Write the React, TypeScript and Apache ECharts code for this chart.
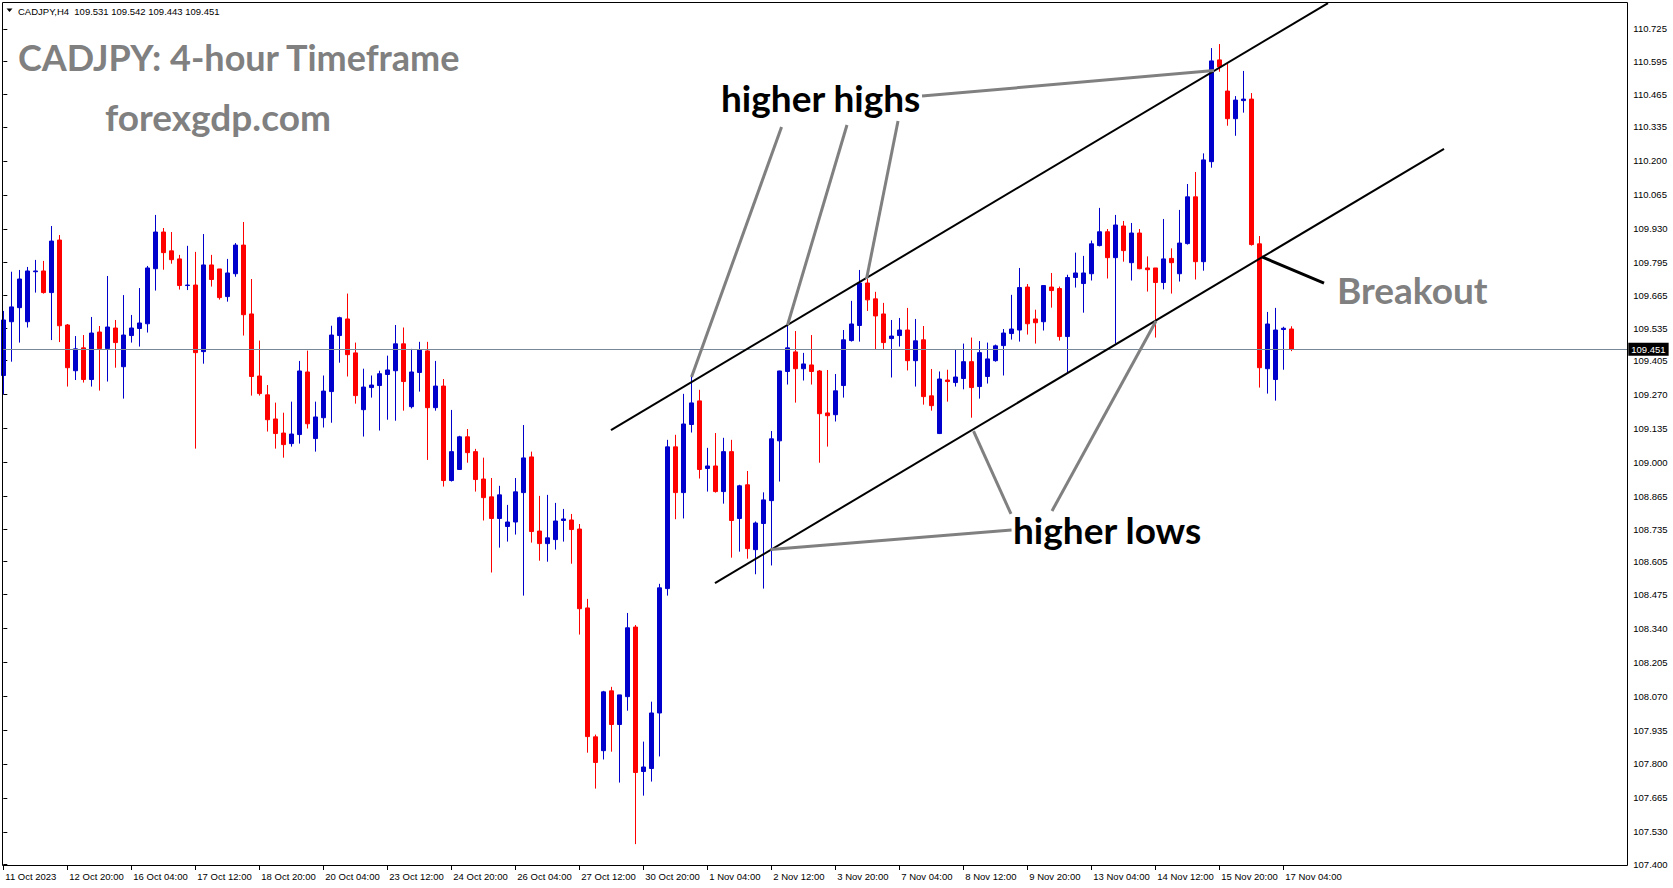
import React, { useEffect, useRef } from 'react';
import * as echarts from 'echarts';

// ---- candle data (H4 bars, index 0 = 11 Oct 2023 12:00) ----
const opens = [
  109.346, 109.560, 109.616, 109.560, 109.759, 109.762, 109.676, 109.885, 109.547, 109.365,
  109.456, 109.330, 109.519, 109.453, 109.535, 109.381, 109.505, 109.533, 109.552, 109.771,
  109.917, 109.842, 109.810, 109.704, 109.706, 109.441, 109.786, 109.770, 109.660, 109.751,
  109.865, 109.591, 109.344, 109.269, 109.173, 109.117, 109.075, 109.111, 109.360, 109.095,
  109.178, 109.282, 109.505, 109.571, 109.436, 109.210, 109.298, 109.306, 109.350, 109.365,
  109.472, 109.222, 109.358, 109.444, 109.218, 109.304, 108.928, 108.972, 109.102, 109.043,
  108.934, 108.863, 108.777, 108.745, 108.763, 108.880, 109.022, 108.727, 108.677, 108.693,
  108.769, 108.771, 108.735, 108.421, 107.908, 107.853, 108.091, 107.957, 108.068, 108.345,
  107.770, 107.782, 108.003, 108.498, 109.062, 108.880, 109.151, 109.245, 108.976, 108.986,
  108.884, 109.043, 108.777, 108.911, 108.653, 108.757, 108.848, 109.086, 109.362, 109.440,
  109.373, 109.388, 109.364, 109.197, 109.190, 109.306, 109.485, 109.545, 109.714, 109.651,
  109.591, 109.493, 109.505, 109.527, 109.405, 109.488, 109.265, 109.115, 109.328, 109.318,
  109.334, 109.401, 109.302, 109.342, 109.405, 109.465, 109.513, 109.527, 109.698, 109.571,
  109.560, 109.698, 109.692, 109.501, 109.736, 109.712, 109.751, 109.863, 109.918, 109.815,
  109.941, 109.795, 109.913, 109.774, 109.774, 109.716, 109.812, 109.751, 109.871, 110.057,
  109.799, 110.197, 110.602, 110.478, 110.368, 110.440, 110.446, 109.870, 109.373, 109.330,
  109.529, 109.531,
];
const highs = [
  109.603, 109.759, 109.766, 109.778, 109.806, 109.802, 109.941, 109.905, 109.551, 109.503,
  109.507, 109.579, 109.543, 109.742, 109.567, 109.666, 109.587, 109.694, 109.782, 109.985,
  109.933, 109.917, 109.826, 109.862, 109.838, 109.909, 109.826, 109.770, 109.810, 109.873,
  109.957, 109.730, 109.485, 109.308, 109.238, 109.198, 109.242, 109.404, 109.445, 109.242,
  109.346, 109.544, 109.580, 109.672, 109.477, 109.373, 109.346, 109.365, 109.425, 109.547,
  109.537, 109.452, 109.480, 109.480, 109.404, 109.332, 109.209, 109.106, 109.133, 109.054,
  109.019, 108.938, 108.907, 108.831, 108.938, 109.149, 109.043, 108.867, 108.871, 108.839,
  108.815, 108.795, 108.755, 108.457, 107.917, 108.091, 108.107, 108.075, 108.401, 108.353,
  107.889, 108.048, 108.517, 109.090, 109.110, 109.273, 109.344, 109.289, 109.058, 109.117,
  109.098, 109.090, 108.911, 108.966, 108.765, 108.881, 109.125, 109.365, 109.543, 109.523,
  109.436, 109.507, 109.368, 109.368, 109.352, 109.527, 109.643, 109.766, 109.730, 109.679,
  109.635, 109.567, 109.575, 109.615, 109.571, 109.543, 109.372, 109.362, 109.369, 109.449,
  109.473, 109.497, 109.483, 109.477, 109.469, 109.531, 109.667, 109.774, 109.710, 109.608,
  109.704, 109.754, 109.700, 109.747, 109.835, 109.822, 109.883, 110.013, 109.929, 109.985,
  109.961, 109.953, 109.929, 109.820, 109.774, 109.969, 109.852, 110.005, 110.108, 110.156,
  110.230, 110.649, 110.665, 110.586, 110.458, 110.558, 110.470, 109.901, 109.599, 109.615,
  109.540, 109.542,
];
const lows = [
  109.271, 109.401, 109.477, 109.537, 109.676, 109.672, 109.487, 109.479, 109.302, 109.328,
  109.318, 109.302, 109.286, 109.322, 109.377, 109.254, 109.477, 109.461, 109.517, 109.684,
  109.767, 109.791, 109.688, 109.686, 109.055, 109.393, 109.700, 109.648, 109.640, 109.739,
  109.505, 109.266, 109.266, 109.123, 109.055, 109.019, 109.063, 109.075, 109.135, 109.043,
  109.139, 109.158, 109.397, 109.342, 109.234, 109.103, 109.258, 109.127, 109.170, 109.166,
  109.206, 109.215, 109.282, 109.010, 109.206, 108.904, 108.924, 108.970, 108.999, 108.884,
  108.769, 108.562, 108.661, 108.685, 108.713, 108.470, 108.681, 108.609, 108.605, 108.653,
  108.685, 108.597, 108.315, 107.845, 107.702, 107.818, 107.849, 107.726, 108.012, 107.481,
  107.674, 107.730, 107.830, 108.470, 108.774, 108.777, 109.119, 108.936, 108.884, 108.880,
  108.836, 108.621, 108.645, 108.617, 108.555, 108.498, 108.590, 108.924, 109.310, 109.238,
  109.326, 109.310, 108.999, 109.063, 109.163, 109.258, 109.481, 109.481, 109.603, 109.449,
  109.449, 109.338, 109.461, 109.366, 109.302, 109.230, 109.206, 109.113, 109.242, 109.302,
  109.291, 109.178, 109.254, 109.314, 109.401, 109.346, 109.489, 109.481, 109.509, 109.473,
  109.525, 109.616, 109.485, 109.358, 109.696, 109.596, 109.724, 109.860, 109.732, 109.473,
  109.799, 109.724, 109.769, 109.680, 109.497, 109.689, 109.672, 109.720, 109.867, 109.728,
  109.763, 110.173, 110.555, 110.340, 110.300, 110.392, 109.863, 109.298, 109.274, 109.246,
  109.369, 109.443,
];
const closes = [
  109.567, 109.619, 109.730, 109.762, 109.762, 109.676, 109.881, 109.544, 109.377, 109.452,
  109.330, 109.515, 109.453, 109.539, 109.477, 109.507, 109.535, 109.555, 109.774, 109.917,
  109.835, 109.807, 109.704, 109.706, 109.437, 109.786, 109.728, 109.656, 109.754, 109.865,
  109.588, 109.342, 109.274, 109.170, 109.115, 109.071, 109.113, 109.364, 109.154, 109.181,
  109.284, 109.507, 109.576, 109.429, 109.266, 109.300, 109.308, 109.353, 109.368, 109.472,
  109.322, 109.360, 109.448, 109.218, 109.304, 108.928, 109.043, 109.102, 109.039, 108.932,
  108.860, 108.777, 108.871, 108.763, 108.883, 109.018, 108.725, 108.677, 108.700, 108.767,
  108.775, 108.733, 108.418, 107.909, 107.806, 108.087, 107.957, 108.075, 108.342, 107.766,
  107.788, 108.003, 108.501, 109.062, 108.880, 109.153, 109.237, 108.972, 108.986, 108.884,
  109.043, 108.769, 108.907, 108.657, 108.759, 108.851, 109.094, 109.364, 109.456, 109.373,
  109.392, 109.362, 109.194, 109.186, 109.285, 109.488, 109.551, 109.714, 109.647, 109.583,
  109.477, 109.503, 109.527, 109.405, 109.484, 109.262, 109.226, 109.332, 109.322, 109.340,
  109.401, 109.298, 109.437, 109.412, 109.464, 109.515, 109.531, 109.696, 109.552, 109.556,
  109.704, 109.684, 109.501, 109.736, 109.754, 109.754, 109.870, 109.918, 109.815, 109.945,
  109.843, 109.913, 109.771, 109.767, 109.716, 109.810, 109.795, 109.873, 110.057, 109.799,
  110.204, 110.598, 110.574, 110.368, 110.442, 110.446, 109.867, 109.377, 109.551, 109.527,
  109.534, 109.451,
];

// time labels, one every 8 bars starting at bar 0
const xTickLabels = [
  '11 Oct 2023', '12 Oct 20:00', '16 Oct 04:00', '17 Oct 12:00', '18 Oct 20:00',
  '20 Oct 04:00', '23 Oct 12:00', '24 Oct 20:00', '26 Oct 04:00', '27 Oct 12:00',
  '30 Oct 20:00', '1 Nov 04:00', '2 Nov 12:00', '3 Nov 20:00', '7 Nov 04:00',
  '8 Nov 12:00', '9 Nov 20:00', '13 Nov 04:00', '14 Nov 12:00', '15 Nov 20:00',
  '17 Nov 04:00',
];
const LABEL_STEP = 8;

const priceTicks = [
  110.725, 110.595, 110.465, 110.335, 110.2, 110.065, 109.93, 109.795, 109.665, 109.535,
  109.405, 109.27, 109.135, 109.0, 108.865, 108.735, 108.605, 108.475, 108.34, 108.205,
  108.07, 107.935, 107.8, 107.665, 107.53, 107.4,
];
const lastPrice = 109.451;
const headerText = 'CADJPY,H4  109.531 109.542 109.443 109.451';

// annotation segments in (bar index, price)
const channelLines = [
  [[75.96, 109.129], [165.59, 110.828]],
  [[88.96, 108.52], [180.09, 110.248]],
];
const pointerLines = [
  [[97.28, 110.335], [86.03, 109.34]],
  [[105.46, 110.343], [98.03, 109.547]],
  [[111.84, 110.359], [107.9, 109.73]],
  [[114.84, 110.458], [151.34, 110.56]],
  [[126.03, 108.731], [95.89, 108.654]],
  [[125.96, 108.795], [121.28, 109.125]],
  [[131.09, 108.807], [144.09, 109.563]],
];
const breakoutLines = [[[157.34, 109.818], [165.09, 109.714]]];

const TOTAL_SLOTS = 204;
const AXIS_FONT = 'Liberation Sans';

export default function App() {
  const ref = useRef<HTMLDivElement>(null);

  useEffect(() => {
    if (!ref.current) return;
    const chart = echarts.init(ref.current, null, { renderer: 'svg' });
    const categories = Array.from({ length: TOTAL_SLOTS }, (_, i) => String(i));
    const candleData = opens.map((o, i) => [o, closes[i], lows[i], highs[i]]);
    const showAt = (idx: number) => idx % LABEL_STEP === 0 && idx / LABEL_STEP < xTickLabels.length;

    const segSeries = (segs: number[][][], color: string, width: number) =>
      segs.map((s) => ({
        type: 'line',
        xAxisIndex: 1,
        yAxisIndex: 0,
        data: s,
        symbol: 'none',
        silent: true,
        z: 5,
        lineStyle: { color, width },
      }));

    const txt = (text: string, x: number, y: number, fill: string, size: number) => ({
      type: 'text',
      x,
      y,
      z: 50,
      style: {
        text,
        fill,
        fontSize: size,
        fontWeight: 'bold',
        fontFamily: 'Lato',
        verticalAlign: 'middle',
        align: 'left',
      },
    });

    chart.setOption({
      animation: false,
      backgroundColor: '#ffffff',
      grid: { left: 3.3, right: 45.7, top: 2, bottom: 22, containLabel: false },
      xAxis: [
        {
          type: 'category',
          data: categories,
          boundaryGap: false,
          axisLine: { show: false },
          axisTick: {
            show: true,
            interval: (idx: number) => showAt(idx),
            length: 4,
            lineStyle: { color: '#000', width: 1 },
          },
          axisLabel: {
            interval: (idx: number) => showAt(idx),
            formatter: (_v: string, idx: number) => xTickLabels[idx / LABEL_STEP] ?? '',
            align: 'left',
            margin: 5,
            color: '#000',
            fontSize: 9.5,
            fontFamily: AXIS_FONT,
            padding: [0, 0, 0, 2],
          },
          splitLine: { show: false },
        },
        { type: 'value', min: 0, max: TOTAL_SLOTS - 1, show: false },
      ],
      yAxis: {
        type: 'value',
        position: 'right',
        min: 107.394,
        max: 110.8324,
        scale: true,
        splitLine: { show: false },
        axisLine: { show: false },
        axisTick: {
          show: true,
          customValues: priceTicks,
          length: 4,
          lineStyle: { color: '#000', width: 1 },
        },
        axisLabel: {
          customValues: priceTicks,
          formatter: (v: number) => v.toFixed(3),
          margin: 6,
          color: '#000',
          fontSize: 9.5,
          fontFamily: AXIS_FONT,
        },
      },
      series: [
        {
          type: 'candlestick',
          xAxisIndex: 0,
          yAxisIndex: 0,
          data: candleData,
          barWidth: 4,
          itemStyle: {
            color: '#0000CD',
            color0: '#FF0000',
            borderColor: '#0000CD',
            borderColor0: '#FF0000',
            borderWidth: 1,
          },
          markLine: {
            silent: true,
            symbol: ['none', 'none'],
            data: [{ yAxis: lastPrice }],
            lineStyle: { color: '#778899', width: 1, type: 'solid' },
            label: {
              show: true,
              position: 'end',
              distance: 1,
              formatter: () => lastPrice.toFixed(3),
              color: '#fff',
              backgroundColor: '#000',
              padding: [2, 3, 1, 3],
              fontSize: 9.5,
              fontFamily: AXIS_FONT,
            },
          },
          z: 2,
        },
        ...segSeries(channelLines, '#000', 2),
        ...segSeries(pointerLines, '#808080', 3),
        ...segSeries(breakoutLines, '#000', 3),
      ],
      graphic: [
        {
          type: 'rect',
          z: 100,
          silent: true,
          shape: { x: 2.5, y: 2.5, width: 1625, height: 863 },
          style: { fill: 'none', stroke: '#000', lineWidth: 1 },
        },
        {
          type: 'polygon',
          z: 50,
          shape: { points: [[6.5, 8.5], [12.5, 8.5], [9.5, 12]] },
          style: { fill: '#000' },
        },
        {
          type: 'text',
          x: 18,
          y: 11,
          z: 50,
          style: {
            text: headerText,
            fill: '#000',
            fontSize: 9.5,
            fontFamily: AXIS_FONT,
            verticalAlign: 'middle',
          },
        },
        txt('CADJPY: 4-hour Timeframe', 18, 57, '#808080', 36),
        txt('forexgdp.com', 105, 116.5, '#808080', 37),
        txt('higher highs', 721, 97, '#000', 37),
        txt('higher lows', 1013, 529, '#000', 37),
        txt('Breakout', 1337, 289, '#808080', 37),
      ],
    });

    return () => chart.dispose();
  }, []);

  return (
    <div
      ref={ref}
      style={{ position: 'fixed', left: 0, top: 0, width: 1673, height: 888, background: '#fff' }}
    />
  );
}
